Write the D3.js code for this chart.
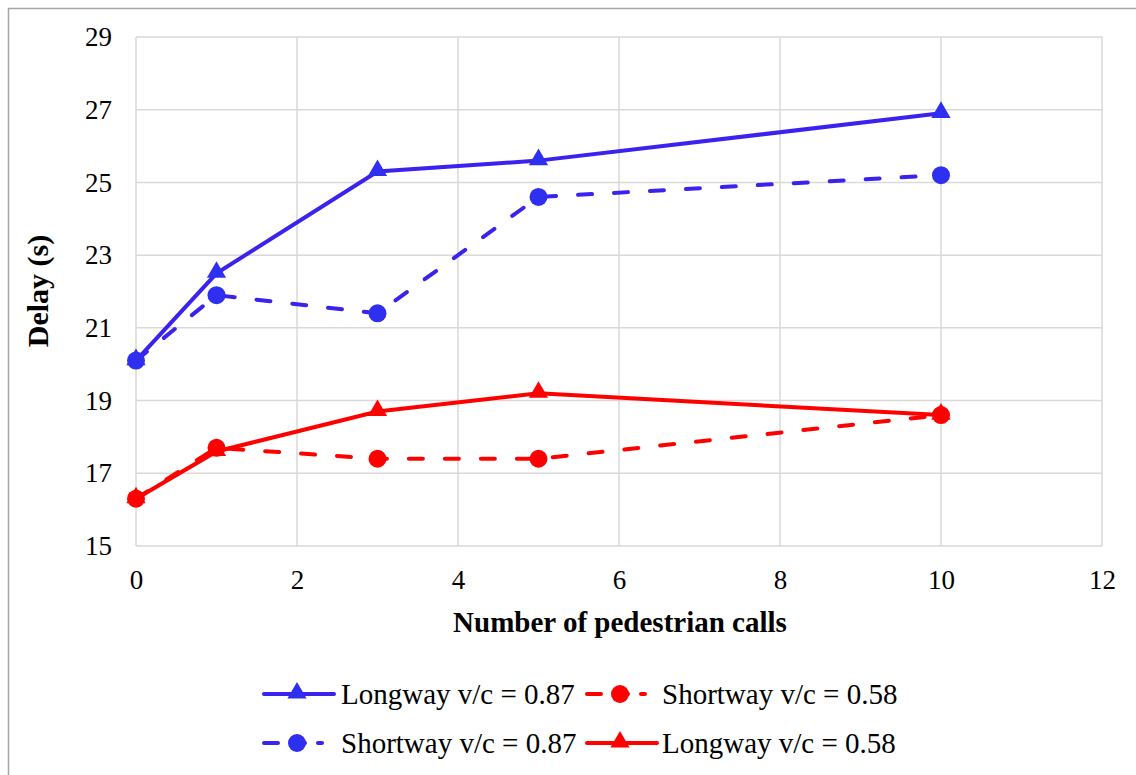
<!DOCTYPE html>
<html>
<head>
<meta charset="utf-8">
<script src="https://cdn.jsdelivr.net/npm/d3@7"></script>
<style>
  body { margin: 0; background: #fff; }
  svg text { font-family: "Liberation Serif", "Times New Roman", serif; fill: #000; }
</style>
</head>
<body>
<svg id="chart" width="1136" height="775"></svg>
<script>
// data
var xCalls = [0, 1, 3, 5, 10];
var longway087 = [20.1, 22.5, 25.3, 25.6, 26.9];
var shortway087 = [20.1, 21.9, 21.4, 24.6, 25.2];
var longway058 = [16.3, 17.6, 18.7, 19.2, 18.6];
var shortway058 = [16.3, 17.7, 17.4, 17.4, 18.6];
var xTicks = [0, 2, 4, 6, 8, 10, 12];
var yTicks = [15, 17, 19, 21, 23, 25, 27, 29];

var blue = "#3a22ef", blueMark = "#2f2ff2", red = "#ff0000";
var serif = "'Liberation Serif', 'Times New Roman', serif";

var series = [
  {name: "Longway v/c = 0.87", values: longway087, color: blue, mark: blueMark, dash: null, shape: "tri"},
  {name: "Shortway v/c = 0.87", values: shortway087, color: blue, mark: blueMark, dash: "14,22", shape: "circ"},
  {name: "Longway v/c = 0.58", values: longway058, color: red, mark: red, dash: null, shape: "tri"},
  {name: "Shortway v/c = 0.58", values: shortway058, color: red, mark: red, dash: "14,22", shape: "circ"}
];

var svg = d3.select("#chart");

// outer chart border (right/bottom run off the image)
svg.append("path")
    .attr("d", "M8.5,780 L8.5,8.5 L1140,8.5")
    .attr("fill", "none")
    .attr("stroke", "#a6a6a6")
    .attr("stroke-width", 1.5);

var x = d3.scaleLinear().domain([0, 12]).range([136, 1102]);
var y = d3.scaleLinear().domain([15, 29]).range([546, 37]);

// gridlines
svg.append("g").selectAll("line").data(xTicks).join("line")
    .attr("x1", d => x(d)).attr("x2", d => x(d))
    .attr("y1", y(29)).attr("y2", y(15))
    .attr("stroke", "#d9d9d9").attr("stroke-width", 1.5);
svg.append("g").selectAll("line").data(yTicks).join("line")
    .attr("x1", x(0)).attr("x2", x(12))
    .attr("y1", d => y(d)).attr("y2", d => y(d))
    .attr("stroke", "#d9d9d9").attr("stroke-width", 1.5);

// axes (labels only, lines hidden)
var xAxis = svg.append("g")
    .attr("transform", "translate(0," + y(15) + ")")
    .call(d3.axisBottom(x).tickValues(xTicks).tickSize(0).tickPadding(24));
var yAxis = svg.append("g")
    .attr("transform", "translate(" + x(0) + ",0)")
    .call(d3.axisLeft(y).tickValues(yTicks).tickSize(0).tickPadding(24));
[xAxis, yAxis].forEach(function(a) {
  a.attr("font-family", serif).attr("font-size", 27);
  a.select(".domain").remove();
  a.selectAll("text")
      .style("font-family", serif)
      .style("font-size", "27px")
      .attr("fill", "#000");
});

svg.append("text")
    .attr("x", 620).attr("y", 632)
    .attr("text-anchor", "middle")
    .style("font-size", "29px").style("font-weight", "bold")
    .text("Number of pedestrian calls");

svg.append("text")
    .attr("transform", "translate(48,291) rotate(-90)")
    .attr("text-anchor", "middle")
    .style("font-size", "30px").style("font-weight", "bold")
    .text("Delay (s)");

var line = d3.line()
    .x((d, i) => x(xCalls[i]))
    .y(d => y(d));

var tri = d3.symbol().type(d3.symbolTriangle).size(160);

function drawMarker(g, s, cx, cy) {
  if (s.shape == "tri") {
    g.append("path")
        .attr("d", tri())
        .attr("transform", "translate(" + cx + "," + (cy - 1) + ")")
        .attr("fill", s.mark);
  } else {
    g.append("circle")
        .attr("cx", cx).attr("cy", cy).attr("r", 9)
        .attr("fill", s.mark);
  }
}

// draw order: blue first, red on top
var order = [series[0], series[1], series[3], series[2]];
order.forEach(function(s) {
  var g = svg.append("g");
  g.append("path")
      .attr("d", line(s.values))
      .attr("fill", "none")
      .attr("stroke", s.color)
      .attr("stroke-width", 4)
      .attr("stroke-dasharray", s.dash)
      .attr("stroke-linecap", s.dash ? "round" : "butt");
  s.values.forEach(function(v, i) { drawMarker(g, s, x(xCalls[i]), y(v)); });
});

// legend
var legendItems = [
  {s: series[0], lx: 264, tx: 341, cy: 694},
  {s: series[3], lx: 587, tx: 662, cy: 694},
  {s: series[1], lx: 264, tx: 341, cy: 743},
  {s: series[2], lx: 587, tx: 662, cy: 743}
];
legendItems.forEach(function(it) {
  var g = svg.append("g");
  var w = it.s.dash ? 58 : 70;
  g.append("line")
      .attr("x1", it.lx).attr("x2", it.lx + w)
      .attr("y1", it.cy).attr("y2", it.cy)
      .attr("stroke", it.s.color)
      .attr("stroke-width", 4)
      .attr("stroke-linecap", "round")
      .attr("stroke-dasharray", it.s.dash ? "14,13" : null);
  drawMarker(g, it.s, it.lx + 33, it.cy);
  g.append("text")
      .attr("x", it.tx).attr("y", it.cy + 10)
      .style("font-size", "29px")
      .text(it.s.name);
});
</script>
</body>
</html>
